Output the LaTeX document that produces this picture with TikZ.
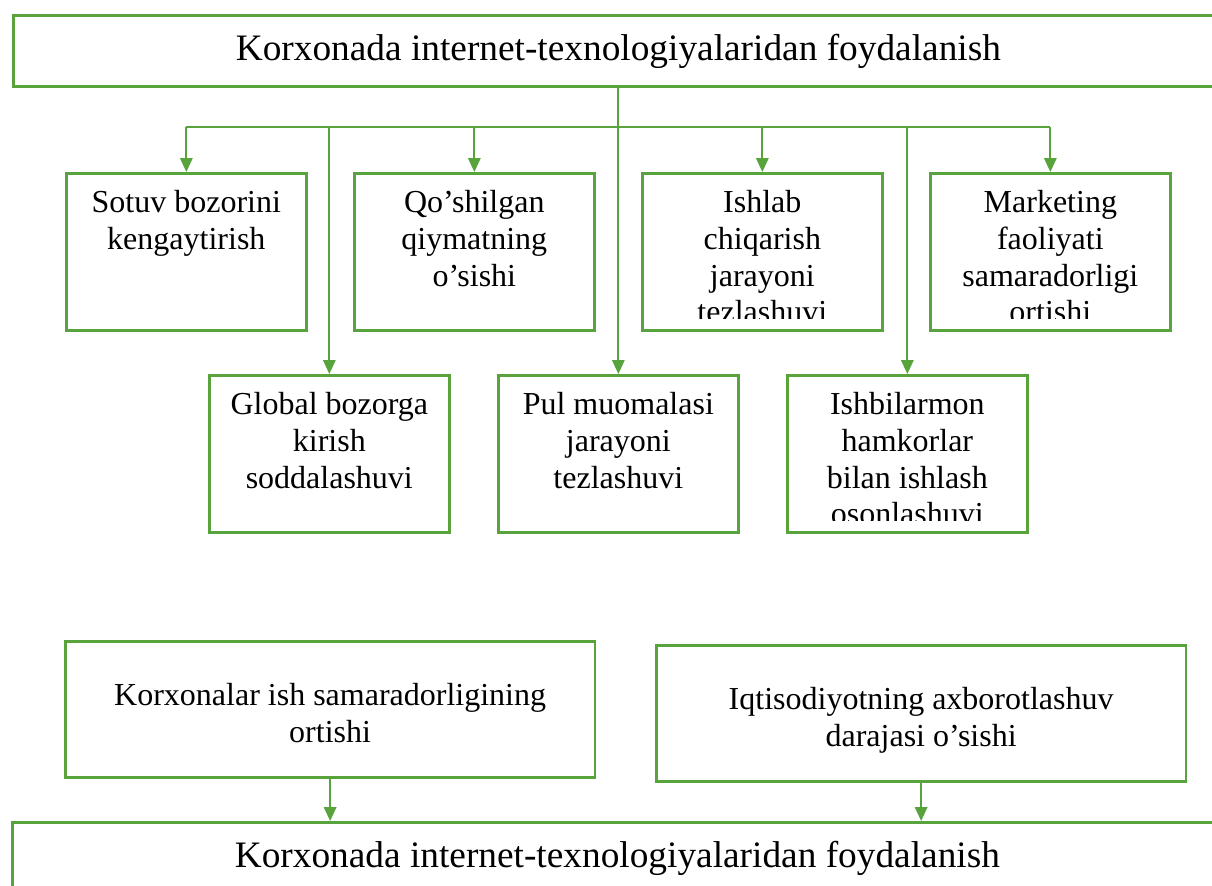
\documentclass[tikz,border=0pt]{standalone}
\usepackage{fontspec}
\setmainfont{Liberation Serif}
\usetikzlibrary{arrows.meta, positioning}
\definecolor{frgreen}{RGB}{88,163,60}

\begin{document}
\begin{tikzpicture}[x=0.375pt, y=-0.375pt,
        box/.style={draw=frgreen, line width=1pt, rectangle, inner sep=0pt, anchor=north west},
        sbox/.style={box, minimum width=90pt, minimum height=59pt},
        wbox/.style={box, minimum width=198.6pt, minimum height=51pt},
        mbox/.style={box, minimum width=453.75pt},
        txt/.style={font=\fontsize{12}{13.8}\selectfont, align=flush center, text width=86pt, anchor=north, inner sep=0pt},
        mtxt/.style={font=\fontsize{14}{16}\selectfont, anchor=base, inner sep=0pt},
        link/.style={draw=frgreen, line width=0.75pt},
        arr/.style={link, -{Triangle[length=5.2pt, width=4.6pt]}}]
        \clip (0,0) rectangle (1212,885);
        % Define the nodes
        \node[mbox, minimum height=26.6pt] (top) at (12,14) {};
        \node[mtxt] (top-t) at ([yshift=-17.25pt]top.north) {Korxonada internet-texnologiyalaridan foydalanish};
        \node[sbox] (sotuv) at (65,172) {};
        \node[sbox] (qosh) at (353,172) {};
        \node[sbox] (ishlab) at (641,172) {};
        \node[sbox] (market) at (929,172) {};
        \node[sbox] (global) at (208,374) {};
        \node[sbox] (pul) at (497,374) {};
        \node[sbox] (hamkor) at (786,374) {};
        \node[wbox] (samara) at (64,640) {};
        \node[wbox] (axborot) at (655,644) {};
        \node[mbox, minimum height=30pt] (bottom) at (11,821) {};
        \node[mtxt] (bottom-t) at ([yshift=-17.25pt]bottom.north) {Korxonada internet-texnologiyalaridan foydalanish};
        % Texts of the small boxes
        \begin{scope}
            \clip (0,172) rectangle (1212,318);
            \node[txt] (sotuv-t) at (sotuv.north) {\rule{0pt}{15pt}Sotuv bozorini\\kengaytirish};
            \node[txt] (qosh-t) at (qosh.north) {\rule{0pt}{15pt}Qo’shilgan\\qiymatning\\o’sishi};
            \node[txt] (ishlab-t) at (ishlab.north) {\rule{0pt}{15pt}Ishlab\\chiqarish\\jarayoni\\tezlashuvi};
            \node[txt] (market-t) at (market.north) {\rule{0pt}{15pt}Marketing\\faoliyati\\samaradorligi\\ortishi};
        \end{scope}
        \begin{scope}
            \clip (0,374) rectangle (1212,520);
            \node[txt] (global-t) at (global.north) {\rule{0pt}{15pt}Global bozorga\\kirish\\soddalashuvi};
            \node[txt] (pul-t) at (pul.north) {\rule{0pt}{15pt}Pul muomalasi\\jarayoni\\tezlashuvi};
            \node[txt] (hamkor-t) at (hamkor.north) {\rule{0pt}{15pt}Ishbilarmon\\hamkorlar\\bilan ishlash\\osonlashuvi};
        \end{scope}
        \node[txt, text width=190pt] (samara-t) at (samara.north) {\rule{0pt}{24.4pt}Korxonalar ish samaradorligining\\ortishi};
        \node[txt, text width=190pt] (axborot-t) at (axborot.north) {\rule{0pt}{24.4pt}Iqtisodiyotning axborotlashuv\\darajasi o’sishi};
        % Define the connectors
        \coordinate (bus) at (617,127);
        \draw[link] (top.south) -- (top.south |- bus);
        \draw[link] (sotuv.north |- bus) -- (market.north |- bus);
        \foreach \n in {sotuv, qosh, ishlab, market, global, pul, hamkor}
            \draw[arr] (\n.north |- bus) -- (\n.north);
        \draw[arr] (samara.south) -- (samara.south |- bottom.north);
        \draw[arr] (axborot.south) -- (axborot.south |- bottom.north);
    \end{tikzpicture}
\end{document}
